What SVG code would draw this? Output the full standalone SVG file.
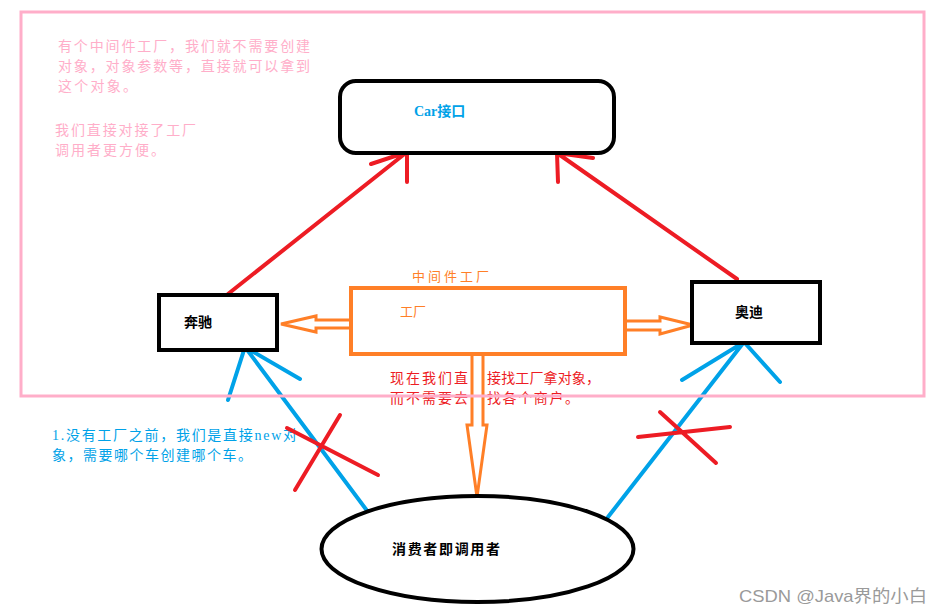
<svg xmlns="http://www.w3.org/2000/svg" width="941" height="614" viewBox="0 0 941 614">
<style>
.t{font-family:"Liberation Serif","Noto Sans CJK SC",serif;}
.pink{fill:#ffaec9;font-size:14px;}
.blue{fill:#00a2e8;font-size:14px;}
.red{fill:#ed1c24;font-size:14px;}
.org{fill:#ff7f27;font-size:13px;}
.blk{fill:#000;font-size:14px;font-weight:bold;}
.box{fill:#fff;stroke:#000;stroke-width:4;}
.rl{stroke:#ed1c24;stroke-width:4;fill:none;stroke-linecap:round;}
.bl{stroke:#00a2e8;stroke-width:4;fill:none;stroke-linecap:round;}
.ol{stroke:#ff7f27;stroke-width:3;fill:none;}
</style>
<rect width="941" height="614" fill="#fff"/>
<g id="notes">
<text class="t pink" x="58" y="51" textLength="252" lengthAdjust="spacing">有个中间件工厂，我们就不需要创建</text>
<text class="t pink" x="58" y="71" textLength="252" lengthAdjust="spacing">对象，对象参数等，直接就可以拿到</text>
<text class="t pink" x="58" y="91" textLength="79" lengthAdjust="spacing">这个对象。</text>
<text class="t pink" x="55" y="135" textLength="141" lengthAdjust="spacing">我们直接对接了工厂</text>
<text class="t pink" x="55" y="155" textLength="110" lengthAdjust="spacing">调用者更方便。</text>
<text class="t blue" x="52" y="440" textLength="245" lengthAdjust="spacing">1.没有工厂之前，我们是直接new对</text>
<text class="t blue" x="52" y="460" textLength="200" lengthAdjust="spacing">象，需要哪个车创建哪个车。</text>
<text class="t red" x="390" y="383" textLength="78" lengthAdjust="spacing">现在我们直</text>
<text class="t red" x="487" y="383" textLength="113" lengthAdjust="spacing">接找工厂拿对象，</text>
<text class="t red" x="390" y="403" textLength="78" lengthAdjust="spacing">而不需要去</text>
<text class="t red" x="487" y="403" textLength="92" lengthAdjust="spacing">找各个商户。</text>
<text class="t org" x="412" y="281" textLength="77" lengthAdjust="spacing">中间件工厂</text>
</g>
<g id="connectors">
<path class="rl" d="M228,294 L407,152 M371,164 L407,152 L407,182"/>
<path class="rl" d="M737,279 L557,153 M593,158 L557,153 L558,182"/>
<path class="bl" d="M245,347 L368,512 M300,379 L245,347 L228,400"/>
<path class="bl" d="M744,342 L608,517 M682,380 L744,342 L780,382"/>
<path class="rl" d="M287,428 L378,475 M340,415 L295,490"/>
<path class="rl" d="M638,437 L730,427 M660,412 L716,463"/>
<path class="ol" d="M350,320 L316,320 L316,316 L281,324 L316,332 L316,328 L350,328" fill="#fff"/>
<path class="ol" d="M626,321 L660,321 L660,317 L693,325 L660,334 L660,330 L626,330" fill="#fff"/>
<path class="ol" d="M472,354 L472,425 L467,425 L477,497 L487,425 L483,425 L483,354" fill="#fff"/>
</g>
<g id="car">
<rect class="box" x="340" y="81" width="274" height="72" rx="16"/>
<text class="t" x="414" y="116" font-size="14" font-weight="bold" fill="#00a2e8">Car接口</text>
</g>
<g id="benz">
<rect class="box" x="159" y="295" width="118" height="55"/>
<text class="t blk" x="184" y="327">奔驰</text>
</g>
<g id="audi">
<rect class="box" x="692" y="282" width="128" height="61"/>
<text class="t blk" x="735" y="317">奥迪</text>
</g>
<g id="factory">
<rect x="351" y="288" width="274" height="66" fill="#fff" stroke="#ff7f27" stroke-width="4"/>
<text class="t org" x="400" y="316">工厂</text>
</g>
<g id="consumer">
<ellipse cx="477.5" cy="549" rx="156" ry="53" fill="#fff" stroke="#000" stroke-width="4"/>
<text class="t blk" x="392" y="554" textLength="108" lengthAdjust="spacing">消费者即调用者</text>
</g>
<rect x="21" y="12" width="903" height="384" fill="none" stroke="#ffaec9" stroke-width="3"/>
<text x="739" y="602" font-family="Liberation Sans,'Noto Sans CJK SC',sans-serif" font-size="17" fill="#9a9a9a" textLength="188" lengthAdjust="spacingAndGlyphs">CSDN @Java界的小白</text>
</svg>
